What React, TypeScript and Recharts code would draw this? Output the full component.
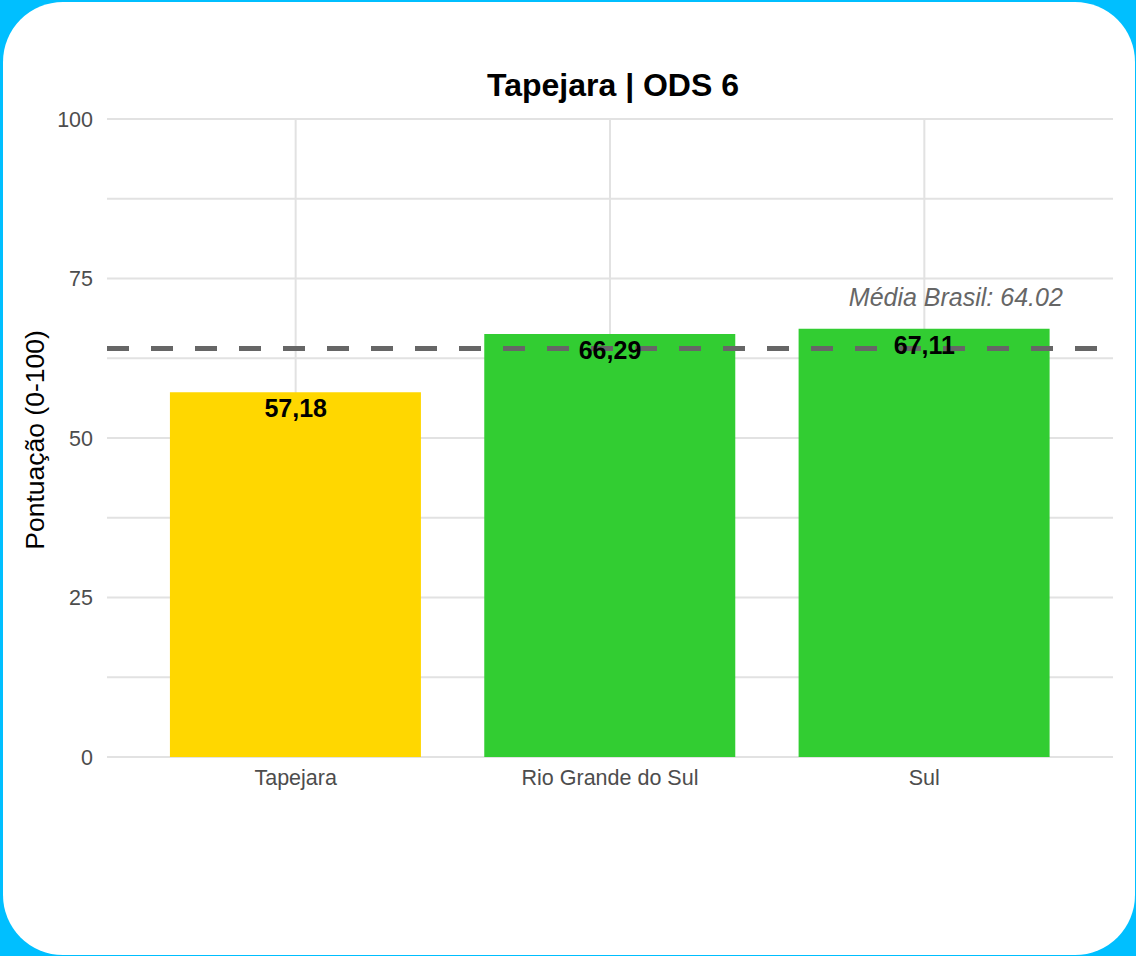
import React from 'react';
import {
  ComposedChart,
  Bar,
  Line,
  XAxis,
  YAxis,
  CartesianGrid,
  ReferenceLine,
  ReferenceDot,
  LabelList,
  Cell,
  Customized,
} from 'recharts';

const categories = ['Tapejara', 'Rio Grande do Sul', 'Sul'];
const scores = [57.18, 66.29, 67.11];
const barColors = ['#FFD700', '#32CD32', '#32CD32'];
const brazilAverage = 64.02;
const yTicks = [0, 12.5, 25, 37.5, 50, 62.5, 75, 87.5, 100];
const yTickLabels = [0, 25, 50, 75, 100];
const chartTitle = 'Tapejara | ODS 6';
const yTitle = 'Pontuação (0-100)';

const data = categories.map((name, i) => ({ name, value: scores[i] }));

const FONT = '"Liberation Sans", Arial, Helvetica, sans-serif';

const fmt = (v: number) => v.toFixed(2).replace('.', ',');

export default function App() {
  return (
    <div style={{ position: 'absolute', left: 0, top: 0, width: 1136, height: 956, background: '#00BFFF', overflow: 'hidden' }}>
      <div style={{ position: 'absolute', left: 3, top: 2, width: 1132, height: 953, background: '#FFFFFF', borderRadius: 60 }} />
      <div style={{ position: 'absolute', left: 0, top: 0 }}>
        <ComposedChart
          width={1136}
          height={956}
          data={data}
          margin={{ top: 119, right: 23, bottom: 169, left: 0 }}
          barCategoryGap="10%"
        >
          <CartesianGrid stroke="#e2e2e2" strokeWidth={2} syncWithTicks />
          <XAxis
            dataKey="name"
            padding={{ left: 31.5, right: 31.5 }}
            axisLine={false}
            tickLine={false}
            tickSize={0}
            tickMargin={13}
            height={30}
            tick={{ fontSize: 21.5, fill: '#4d4d4d', fontFamily: FONT }}
          />
          <YAxis
            domain={[0, 100]}
            ticks={yTicks}
            interval={0}
            allowDataOverflow
            axisLine={false}
            tickLine={false}
            tickSize={0}
            tickMargin={14}
            width={107}
            tickFormatter={(v: number) => (yTickLabels.includes(v) ? String(v) : '')}
            tick={{ fontSize: 21.5, fill: '#4d4d4d', fontFamily: FONT }}
          />
          <Bar dataKey="value" isAnimationActive={false}>
            {data.map((d, i) => (
              <Cell key={d.name} fill={barColors[i]} />
            ))}
          </Bar>
          <ReferenceLine
            y={brazilAverage}
            stroke="#666666"
            strokeWidth={5}
            strokeDasharray="22 22"
          />
          <ReferenceDot
            x="Sul"
            y={72.1}
            r={0}
            fill="none"
            stroke="none"
            label={(props: any) => {
              const vb = props.viewBox || {};
              const cx = (vb.x ?? 0) + (vb.width ?? 0) / 2;
              const cy = (vb.y ?? 0) + (vb.height ?? 0) / 2;
              return (
                <text
                  x={cx + 31.5}
                  y={cy}
                  textAnchor="middle"
                  dominantBaseline="central"
                  fontFamily={FONT}
                  fontStyle="italic"
                  fontSize={25}
                  fill="#666666"
                >
                  {`Média Brasil: ${brazilAverage.toFixed(2)}`}
                </text>
              );
            }}
          />
          <Line
            dataKey="value"
            stroke="none"
            dot={false}
            activeDot={false}
            isAnimationActive={false}
          >
            <LabelList
              dataKey="value"
              content={(props: any) => (
                <text
                  x={props.x}
                  y={props.y + 25}
                  textAnchor="middle"
                  fontFamily={FONT}
                  fontWeight="bold"
                  fontSize={25}
                  fill="#000000"
                >
                  {fmt(Number(props.value))}
                </text>
              )}
            />
          </Line>
          <Customized
            component={() => (
              <g>
                <text
                  x={613}
                  y={96}
                  textAnchor="middle"
                  fontFamily={FONT}
                  fontWeight="bold"
                  fontSize={32}
                  fill="#000000"
                >
                  {chartTitle}
                </text>
                <text
                  x={35}
                  y={440}
                  transform="rotate(-90 35 440)"
                  textAnchor="middle"
                  dominantBaseline="central"
                  fontFamily={FONT}
                  fontSize={26.5}
                  fill="#000000"
                >
                  {yTitle}
                </text>
              </g>
            )}
          />
        </ComposedChart>
      </div>
    </div>
  );
}
